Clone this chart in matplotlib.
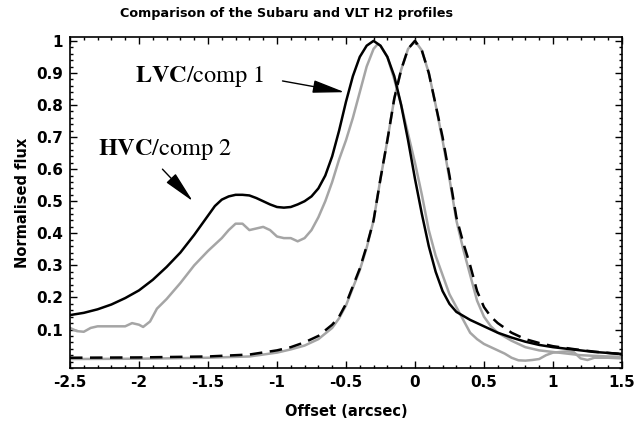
import matplotlib
matplotlib.use("Agg")
import matplotlib.pyplot as plt
from matplotlib.ticker import MultipleLocator, FuncFormatter

# Subaru H2 profile (black solid)
x_sub = [-2.5, -2.4, -2.3, -2.2, -2.1, -2.0, -1.9, -1.8, -1.7, -1.6, -1.5, -1.45,
         -1.4, -1.35, -1.3, -1.25, -1.2, -1.15, -1.1, -1.05, -1.0, -0.95, -0.9,
         -0.85, -0.8, -0.75, -0.7, -0.65, -0.6, -0.55, -0.5, -0.45, -0.4, -0.35,
         -0.3, -0.25, -0.2, -0.15, -0.1, -0.05, 0.0, 0.05, 0.1, 0.15, 0.2, 0.25,
         0.3, 0.4, 0.5, 0.6, 0.7, 0.8, 0.9, 1.0, 1.1, 1.2, 1.3, 1.4, 1.5]
y_sub = [0.145, 0.152, 0.163, 0.178, 0.198, 0.222, 0.255, 0.295, 0.34, 0.395, 0.455, 0.485,
         0.505, 0.515, 0.52, 0.52, 0.518, 0.51, 0.5, 0.49, 0.482, 0.48, 0.482,
         0.49, 0.5, 0.515, 0.54, 0.58, 0.64, 0.72, 0.81, 0.89, 0.95, 0.985,
         1.0, 0.985, 0.95, 0.89, 0.8, 0.69, 0.57, 0.46, 0.36, 0.28, 0.22, 0.18,
         0.155, 0.13, 0.11, 0.09, 0.075, 0.062, 0.052, 0.045, 0.04, 0.035, 0.03, 0.027, 0.024]

# VLT H2 profile (grey solid)
x_vlt = [-2.5, -2.45, -2.4, -2.35, -2.3, -2.2, -2.1, -2.05, -2.0, -1.97, -1.92, -1.87,
         -1.8, -1.7, -1.6, -1.5, -1.4, -1.35, -1.3, -1.25, -1.2, -1.15, -1.1, -1.05,
         -1.0, -0.95, -0.9, -0.85, -0.8, -0.75, -0.7, -0.65, -0.6, -0.55, -0.5, -0.45,
         -0.4, -0.35, -0.3, -0.27, -0.25, -0.2, -0.15, -0.1, -0.05, 0.0, 0.05, 0.1,
         0.15, 0.2, 0.25, 0.3, 0.35, 0.4, 0.45, 0.5, 0.55, 0.6, 0.65, 0.7, 0.75, 0.8,
         0.85, 0.9, 0.95, 1.0, 1.05, 1.1, 1.15, 1.2, 1.25, 1.3, 1.4, 1.5]
y_vlt = [0.105, 0.095, 0.093, 0.105, 0.11, 0.11, 0.11, 0.12, 0.115, 0.108, 0.125, 0.165,
         0.195, 0.245, 0.3, 0.345, 0.385, 0.41, 0.43, 0.43, 0.41, 0.415, 0.42, 0.41,
         0.39, 0.385, 0.385, 0.375, 0.385, 0.41, 0.45, 0.5, 0.56, 0.63, 0.69, 0.76,
         0.84, 0.92, 0.975, 0.99, 0.985, 0.95, 0.88, 0.8, 0.71, 0.62, 0.52, 0.41,
         0.33, 0.27, 0.21, 0.17, 0.13, 0.09, 0.07, 0.055, 0.045, 0.035, 0.025, 0.012, 0.004, 0.003,
         0.005, 0.008, 0.02, 0.028, 0.03, 0.032, 0.03, 0.01, 0.005, 0.012, 0.012, 0.01]

# PSF profiles
x_psf = [-2.5, -2.0, -1.5, -1.2, -1.0, -0.9, -0.8, -0.7, -0.6, -0.55, -0.5, -0.45,
         -0.4, -0.35, -0.3, -0.25, -0.2, -0.15, -0.1, -0.05, 0.0, 0.05, 0.1, 0.15,
         0.2, 0.25, 0.3, 0.35, 0.4, 0.45, 0.5, 0.55, 0.6, 0.7, 0.8, 0.9, 1.0, 1.1,
         1.2, 1.3, 1.4, 1.5]
y_psf_sub = [0.012, 0.013, 0.016, 0.022, 0.035, 0.045, 0.06, 0.08, 0.115, 0.14, 0.18, 0.235,
             0.29, 0.36, 0.44, 0.57, 0.69, 0.82, 0.91, 0.975, 1.0, 0.97, 0.9, 0.8,
             0.7, 0.58, 0.45, 0.37, 0.3, 0.22, 0.17, 0.14, 0.12, 0.09, 0.07, 0.058, 0.048, 0.042,
             0.036, 0.031, 0.027, 0.023]
y_psf_vlt = [0.008, 0.009, 0.012, 0.016, 0.028, 0.038, 0.05, 0.07, 0.105, 0.135, 0.175, 0.23,
             0.285, 0.355, 0.44, 0.57, 0.69, 0.82, 0.91, 0.975, 1.0, 0.97, 0.9, 0.8,
             0.69, 0.57, 0.44, 0.35, 0.27, 0.19, 0.14, 0.11, 0.09, 0.065, 0.045, 0.035, 0.03, 0.025,
             0.02, 0.018, 0.016, 0.015]

grey = '#a5a5a5'

fig = plt.figure(figsize=(6.34, 4.23), dpi=100)
ax = fig.add_axes([0.1104, 0.13, 0.8706, 0.7825])

ax.plot(x_psf, y_psf_vlt, color=grey, lw=1.8)
ax.plot(x_psf, y_psf_sub, color='black', lw=1.8, dashes=(5, 3))
ax.plot(x_vlt, y_vlt, color=grey, lw=1.8)
ax.plot(x_sub, y_sub, color='black', lw=1.8)

ax.set_xlim(-2.5, 1.5)
ax.set_ylim(-0.02, 1.012)
ax.set_yticks([0.1, 0.2, 0.3, 0.4, 0.5, 0.6, 0.7, 0.8, 0.9, 1.0])
ax.xaxis.set_major_locator(MultipleLocator(0.5))
ax.xaxis.set_minor_locator(MultipleLocator(0.1))
ax.yaxis.set_minor_locator(MultipleLocator(0.02))
fmt = FuncFormatter(lambda v, p: '{:g}'.format(round(v, 2)))
ax.xaxis.set_major_formatter(fmt)
ax.yaxis.set_major_formatter(fmt)
ax.tick_params(which='both', direction='in', top=True, right=True, width=1)
ax.tick_params(which='major', length=5, labelsize=11, pad=5)
ax.tick_params(which='minor', length=2.5)
for lab in ax.get_xticklabels() + ax.get_yticklabels():
    lab.set_fontweight('bold')
for s in ax.spines.values():
    s.set_linewidth(1.2)

# title sits a little left of the axes centre in the original
fig.text(287 / 634, 1 - 14 / 423, 'Comparison of the Subaru and VLT H2 profiles',
         fontsize=9.2, fontweight='bold', ha='center', va='center')
ax.set_xlabel('Offset (arcsec)', fontsize=10.5, fontweight='bold', labelpad=10)
ax.set_ylabel('Normalised flux', fontsize=10.5, fontweight='bold', labelpad=4)

plt.rcParams['mathtext.fontset'] = 'stix'
arrow = dict(arrowstyle='-|>,head_length=1.1,head_width=0.22', color='black', lw=1,
             mutation_scale=18, shrinkA=0, shrinkB=0)
ax.annotate('', xy=(-0.51, 0.84), xytext=(-0.96, 0.875), arrowprops=arrow)
ax.text(-2.03, 0.89, r'$\mathbf{LVC}$/comp 1', family='STIXGeneral', fontsize=17.5, va='center')
ax.annotate('', xy=(-1.61, 0.5), xytext=(-1.83, 0.6), arrowprops=arrow)
ax.text(-2.30, 0.66, r'$\mathbf{HVC}$/comp 2', family='STIXGeneral', fontsize=17.5, va='center')

fig.savefig('out.png', dpi=100)
